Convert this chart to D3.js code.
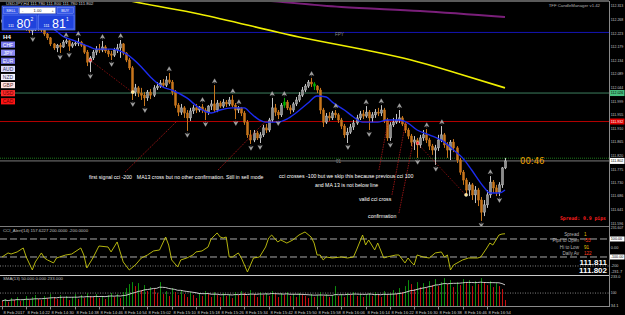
<!DOCTYPE html>
<html>
<head>
<meta charset="utf-8">
<script src="https://cdn.jsdelivr.net/npm/d3@7"></script>
<style>
body { margin: 0; background: #000; }
svg { display: block; font-family: "Liberation Sans", Arial, sans-serif; }
</style>
</head>
<body>
<div class="chart"></div>
<script>
// USDJPY candles, one per minute, 14:14 .. 17:00
var opens = [112.260,112.267,112.257,112.264,112.270,112.274,112.264,112.254,112.244,112.237,
  112.231,112.234,112.241,112.237,112.234,112.221,112.208,112.188,112.175,112.184,
  112.178,112.194,112.198,112.181,112.188,112.191,112.194,112.184,112.161,112.128,
  112.142,112.161,112.171,112.168,112.178,112.165,112.155,112.151,112.168,112.175,
  112.188,112.158,112.135,112.109,112.029,112.043,112.026,112.019,112.010,112.029,
  112.019,112.043,112.049,112.059,112.052,112.069,112.062,112.029,111.986,111.963,
  111.977,111.960,111.944,111.967,111.977,111.970,111.980,111.970,111.963,111.983,
  111.990,111.970,111.993,111.983,111.996,111.990,112.003,111.986,111.970,111.977,
  111.960,111.930,111.888,111.871,111.894,111.878,111.888,111.911,111.904,111.937,
  111.977,111.963,111.954,111.986,111.996,111.977,111.970,111.990,112.003,112.019,
  112.036,112.049,112.062,112.056,112.049,112.036,111.970,111.930,111.950,111.944,
  111.960,111.954,111.937,111.917,111.888,111.897,111.914,111.927,111.944,111.957,
  111.950,111.963,111.944,111.954,111.963,111.960,111.970,111.937,111.878,111.921,
  111.930,111.937,111.944,111.924,111.904,111.884,111.864,111.871,111.855,111.878,
  111.888,111.871,111.851,111.838,111.845,111.871,111.888,111.855,111.838,111.864,
  111.845,111.805,111.765,111.739,111.706,111.723,111.690,111.706,111.673,111.633,
  111.657,111.690,111.732,111.713,111.699,111.723,111.779];
var highs = [112.274,112.270,112.267,112.277,112.280,112.277,112.267,112.260,112.247,112.241,
  112.241,112.244,112.247,112.241,112.237,112.224,112.211,112.191,112.188,112.191,
  112.201,112.204,112.201,112.194,112.198,112.208,112.198,112.188,112.168,112.148,
  112.168,112.181,112.188,112.198,112.184,112.171,112.165,112.175,112.188,112.201,
  112.191,112.161,112.142,112.115,112.056,112.049,112.043,112.029,112.036,112.039,
  112.052,112.062,112.069,112.072,112.082,112.092,112.069,112.036,111.993,111.990,
  111.983,111.970,111.977,111.986,111.990,111.983,111.990,111.977,111.986,112.003,
  112.052,112.003,112.000,112.006,112.003,112.013,112.019,111.993,111.983,111.980,
  111.967,111.937,111.904,111.904,111.901,111.897,111.921,111.924,111.944,112.010,
  111.990,111.970,111.993,112.010,112.003,111.986,111.996,112.013,112.029,112.046,
  112.056,112.069,112.076,112.062,112.052,112.043,111.977,111.960,111.963,111.967,
  111.970,111.960,111.944,111.924,111.911,111.924,111.937,111.954,111.967,111.970,
  111.983,111.970,111.963,111.973,111.977,111.986,111.977,111.944,111.930,111.944,
  111.957,111.970,111.950,111.930,111.911,111.891,111.884,111.878,111.888,111.904,
  111.907,111.878,111.858,111.855,111.888,111.917,111.894,111.864,111.871,111.874,
  111.851,111.812,111.772,111.746,111.732,111.729,111.719,111.713,111.683,111.673,
  111.706,111.752,111.739,111.723,111.732,111.782,111.812];
var lows = [112.254,112.250,112.254,112.260,112.264,112.257,112.247,112.237,112.231,112.224,
  112.217,112.231,112.231,112.227,112.214,112.201,112.181,112.168,112.161,112.158,
  112.175,112.188,112.165,112.175,112.181,112.181,112.178,112.155,112.115,112.095,
  112.135,112.151,112.158,112.161,112.158,112.145,112.135,112.145,112.158,112.142,
  112.151,112.128,112.102,112.003,112.016,112.013,112.003,111.983,112.000,112.006,
  112.013,112.036,112.043,112.046,112.046,112.056,112.019,111.977,111.950,111.954,
  111.944,111.901,111.934,111.957,111.960,111.963,111.960,111.937,111.954,111.970,
  111.963,111.963,111.977,111.977,111.980,111.983,111.980,111.940,111.960,111.950,
  111.921,111.878,111.858,111.864,111.871,111.861,111.881,111.894,111.897,111.930,
  111.950,111.940,111.947,111.977,111.970,111.957,111.963,111.983,111.996,112.013,
  112.029,112.043,112.046,112.036,112.026,111.957,111.914,111.924,111.934,111.937,
  111.944,111.927,111.907,111.878,111.861,111.891,111.904,111.921,111.937,111.940,
  111.944,111.904,111.930,111.944,111.950,111.950,111.927,111.868,111.868,111.914,
  111.924,111.927,111.917,111.894,111.874,111.851,111.838,111.812,111.845,111.868,
  111.861,111.838,111.822,111.789,111.835,111.864,111.845,111.812,111.805,111.831,
  111.795,111.756,111.723,111.693,111.686,111.673,111.663,111.653,111.604,111.620,
  111.647,111.680,111.696,111.686,111.686,111.713,111.775];
var closes = [112.267,112.257,112.264,112.270,112.274,112.264,112.254,112.244,112.237,112.231,
  112.234,112.241,112.237,112.234,112.221,112.208,112.188,112.175,112.184,112.178,
  112.194,112.198,112.181,112.188,112.191,112.194,112.184,112.161,112.128,112.142,
  112.161,112.171,112.168,112.178,112.165,112.155,112.151,112.168,112.175,112.188,
  112.158,112.135,112.109,112.029,112.043,112.026,112.019,112.010,112.029,112.019,
  112.043,112.049,112.059,112.052,112.069,112.062,112.029,111.986,111.963,111.977,
  111.960,111.944,111.967,111.977,111.970,111.980,111.970,111.963,111.983,111.990,
  111.970,111.993,111.983,111.996,111.990,112.003,111.986,111.970,111.977,111.960,
  111.930,111.888,111.871,111.894,111.878,111.888,111.911,111.904,111.937,111.977,
  111.963,111.954,111.986,111.996,111.977,111.970,111.990,112.003,112.019,112.036,
  112.049,112.062,112.056,112.049,112.036,111.970,111.930,111.950,111.944,111.960,
  111.954,111.937,111.917,111.888,111.897,111.914,111.927,111.944,111.957,111.950,
  111.963,111.944,111.954,111.963,111.960,111.970,111.937,111.878,111.921,111.930,
  111.937,111.944,111.924,111.904,111.884,111.864,111.871,111.855,111.878,111.888,
  111.871,111.851,111.838,111.845,111.871,111.888,111.855,111.838,111.864,111.845,
  111.805,111.765,111.739,111.706,111.723,111.690,111.706,111.673,111.633,111.657,
  111.690,111.732,111.713,111.699,111.723,111.779,111.802];
var volumes = [40,56,32,64,48,72,40,56,80,48, 72,88,56,48,80,64,96,72,56,88,
  64,80,48,72,96,56,88,64,104,80, 72,96,64,80,56,88,104,72,96,64,
  112,144,176,192,160,184,128,168,120,152, 136,104,192,96,120,80,144,112,88,128,
  96,72,112,88,64,104,80,120,96,72, 112,88,72,104,80,96,64,112,88,120,
  104,80,128,96,72,112,88,104,80,120, 96,72,104,88,112,80,96,72,104,88,
  80,64,96,72,88,112,80,96,72,88, 160,80,96,72,104,88,112,80,96,72,
  88,104,80,112,96,72,120,88,104,128, 96,144,112,160,208,176,136,192,152,184,
  144,200,168,216,160,192,224,176,208,152, 192,168,216,184,208,160,200,176,224,192,
  168,200,152,184,160,136,48];
var greenCandles = [93, 103];
var fractalUp = [21,25,33,39,55,66,70,76,78,89,93,102,110,120,125,131,140,145,161];
var fractalDown = [10,19,22,29,36,43,47,61,67,77,82,85,91,114,121,128,137,143,158,164];

// moving averages: [candle, price]
var ma13 = [[0,112.267],[10,112.254],[17,112.237],[20,112.214],[24,112.198],[29,112.178],[31,112.171],
  [36,112.171],[41,112.155],[46,112.112],[49,112.079],[53,112.046],[56,112.036],[61,112.010],
  [65,111.977],[69,111.960],[72,111.970],[76,111.977],[80,111.977],[82,111.960],[85,111.937],
  [87,111.930],[91,111.930],[94,111.940],[97,111.960],[101,111.993],[104,112.016],[107,112.013],
  [109,111.996],[113,111.970],[116,111.947],[119,111.930],[124,111.930],[127,111.937],[131,111.937],
  [134,111.927],[137,111.904],[141,111.888],[146,111.864],[149,111.838],[152,111.812],[155,111.772],
  [159,111.716],[161,111.696],[164,111.696],[166,111.706]];
var maYellow = [[30,112.360],[41,112.333],[65,112.287],[98,112.211],[120,112.168],[135,112.135],[151,112.089],[166,112.043]];
var maPurple = [[70,112.346],[85,112.333],[112,112.310],[138,112.297],[166,112.277]];

// CCI(14): [candle, value]
var cci = [[0,-100],[2,-55],[3,-67],[5,-44],[7,0],[8,-100],[10,-244],[11,-155],[13,-55],[14,-111],
  [15,-133],[17,-166],[18,-111],[21,-78],[23,-67],[26,0],[27,-78],[28,-222],[30,-111],[32,22],
  [35,11],[36,-44],[38,67],[39,-44],[40,-155],[42,-244],[44,-189],[46,-111],[48,-78],[50,-33],
  [52,-22],[54,122],[55,33],[56,-133],[58,-211],[59,-133],[61,-111],[63,-78],[64,-44],[66,-33],
  [68,11],[69,100],[71,167],[72,122],[73,111],[74,122],[75,-100],[76,-100],[78,-55],[79,-111],
  [81,-266],[83,-111],[85,-100],[87,11],[88,111],[89,144],[91,67],[92,89],[94,55],[96,89],
  [98,144],[100,178],[102,122],[103,55],[104,-78],[105,-78],[106,-133],[107,-100],[109,-111],[112,-100],
  [114,-111],[116,-100],[117,-22],[119,144],[120,33],[121,89],[123,-22],[124,55],[126,-111],[127,-100],
  [130,-78],[131,-78],[133,-166],[134,-111],[135,-155],[136,-189],[137,-78],[139,-100],[141,-111],[143,-55],
  [145,-44],[146,-100],[147,-78],[148,-244],[149,-189],[152,-133],[154,-111],[157,-111],[158,-100],[160,0],
  [161,55],[162,33],[164,144],[165,155],[166,158]];
var cciLevels = [100, -100];
var cciDotted = [-200];

var timeLabels = ["8 Feb 2017","8 Feb 14:22","8 Feb 14:30","8 Feb 14:38","8 Feb 14:46","8 Feb 14:54",
  "8 Feb 15:02","8 Feb 15:10","8 Feb 15:18","8 Feb 15:26","8 Feb 15:34","8 Feb 15:42","8 Feb 15:50",
  "8 Feb 15:58","8 Feb 16:06","8 Feb 16:14","8 Feb 16:22","8 Feb 16:30","8 Feb 16:38","8 Feb 16:46","8 Feb 16:54"];
var priceTicks = [112.313,112.268,112.223,112.179,112.134,112.089,112.044,111.999,111.955,
  111.910,111.865,111.820,111.775,111.730,111.686,111.641,111.596];

var levelBlue = 112.226, levelGreen = 112.026, levelRed = 111.932;
var askPrice = 111.811, bidPrice = 111.802;

// signal points (red = signal, yellow = entry) and the notes on the chart
var signalIdx = [29, 43, 137, 153];
var signalPrice = [112.135, 112.029, 111.861, 111.690];
var noteText = ["first signal cci -200", "MA13 cross but no other confirmation. Still in sell mode",
  "cci crosses -100 but we skip this because previous cci 100", "and MA 13 is not below line",
  "valid cci cross", "confirmation"];
var noteIdx = [28.7, 44.5, 91.4, 103.3, 117.8, 120.8];
var notePrice = [111.742, 111.742, 111.746, 111.716, 111.670, 111.614];
var pointerFrom = [[40.6,111.765],[71.3,111.772],[124.4,111.772],[128.7,111.690],[131,111.630]];
var pointerTo = [[57.8,111.934],[87.1,111.934],[127.4,111.934],[133.3,111.934],[135.6,111.861]];

var currencies = ["CHF","JPY","EUR","AUD","NZD","GBP","USD","CAD"];
var currencyFill = ["#7474ea","#8a8af2","#6c6cdc","#dcdcfc","#f2f2ff","#ffe4e4","#ff2a2a","#ff1414"];
var currencyInk = ["#ffffff","#ffffff","#ffffff","#303060","#303060","#603030","#600000","#600000"];

var width = 625, height = 315;
var plotRight = 609;

var svg = d3.select(".chart").append("svg")
    .attr("width", width)
    .attr("height", height);
svg.append("rect").attr("width", width).attr("height", height).attr("fill", "#000");

var x = d3.scaleLinear().domain([0, 166]).range([2, 505]);
var y = d3.scaleLinear().domain([111.58, 112.333]).range([228.2, 0]);
var yCci = d3.scaleLinear().domain([-300, 222]).range([275, 228]);
var yVol = d3.scaleLinear().domain([0, 233]).range([306, 277]);

svg.append("clipPath").attr("id", "mainClip")
  .append("rect").attr("x", 0).attr("y", 2).attr("width", plotRight).attr("height", 225);

var main = svg.append("g").attr("clip-path", "url(#mainClip)");

// horizontal levels
function hline(g, yy, color, dash, w) {
  g.append("line").attr("x1", 0).attr("x2", plotRight).attr("y1", yy).attr("y2", yy)
    .attr("stroke", color).attr("stroke-width", w || 1).attr("stroke-dasharray", dash || null);
}
hline(main, y(levelBlue), "#1414b4");
hline(main, y(levelGreen), "#3d7f5f");
hline(main, y(levelRed), "#b40000");
hline(main, y(askPrice), "#1e7a1e", "1,1");
hline(main, y(bidPrice), "#7c7c7c");

var lineMa = d3.line()
    .x(function(d) { return x(d[0]); })
    .y(function(d) { return y(d[1]); })
    .curve(d3.curveMonotoneX);

main.append("path").attr("d", lineMa(maPurple)).attr("fill", "none").attr("stroke", "#7a1f7a").attr("stroke-width", 2);
main.append("path").attr("d", lineMa(maYellow)).attr("fill", "none").attr("stroke", "#f0f000").attr("stroke-width", 1.6);

// candles
var idx = d3.range(opens.length);
var candle = main.selectAll(".candle").data(idx).enter().append("g").attr("class", "candle");
function candleColor(i) {
  if (greenCandles.indexOf(i) >= 0) return "#00b000";
  return closes[i] >= opens[i] ? "#c4c4c4" : "#c8761c";
}
candle.append("line")
    .attr("x1", function(i) { return Math.round(x(i)) + 0.5; })
    .attr("x2", function(i) { return Math.round(x(i)) + 0.5; })
    .attr("y1", function(i) { return y(highs[i]); })
    .attr("y2", function(i) { return y(lows[i]); })
    .attr("stroke", candleColor)
    .attr("stroke-width", 1);
candle.append("rect")
    .attr("x", function(i) { return Math.round(x(i)) - 0.5; })
    .attr("width", 2)
    .attr("y", function(i) { return y(Math.max(opens[i], closes[i])); })
    .attr("height", function(i) { return Math.max(1, Math.abs(y(opens[i]) - y(closes[i]))); })
    .attr("fill", function(i) { return closes[i] >= opens[i] && greenCandles.indexOf(i) < 0 ? "#8c8c8c" : candleColor(i); })
    .attr("stroke", candleColor)
    .attr("stroke-width", 0.5);

// blue MA13
main.append("path").attr("d", lineMa(ma13)).attr("fill", "none").attr("stroke", "#1c2cf0").attr("stroke-width", 1.4);

// fractal arrows
main.selectAll(".fup").data(fractalUp).enter().append("path")
    .attr("transform", function(i) { return "translate(" + (x(i) + 0.5) + "," + (y(highs[i]) - 4) + ")"; })
    .attr("d", "M0,-2.4L2.2,1.6L0,0.5L-2.2,1.6Z M0,0.5L0,2.6")
    .attr("fill", "#a8a8a8").attr("stroke", "#a8a8a8").attr("stroke-width", 0.4);
main.selectAll(".fdn").data(fractalDown).enter().append("path")
    .attr("transform", function(i) { return "translate(" + (x(i) + 0.5) + "," + (y(lows[i]) + 4) + ")"; })
    .attr("d", "M0,2.4L2.2,-1.6L0,-0.5L-2.2,-1.6Z M0,-0.5L0,-2.6")
    .attr("fill", "#a8a8a8").attr("stroke", "#a8a8a8").attr("stroke-width", 0.4);

// signal connectors and dots
[[0, 1], [2, 3]].forEach(function(p) {
  main.append("line")
    .attr("x1", x(signalIdx[p[0]])).attr("y1", y(signalPrice[p[0]]))
    .attr("x2", x(signalIdx[p[1]])).attr("y2", y(signalPrice[p[1]]))
    .attr("stroke", "#a01010").attr("stroke-width", 0.8).attr("stroke-dasharray", "1.5,1.5");
});
main.selectAll(".sig").data(d3.range(signalIdx.length)).enter().append("circle")
    .attr("cx", function(k) { return x(signalIdx[k]) + 0.5; })
    .attr("cy", function(k) { return y(signalPrice[k]); })
    .attr("r", 1.6)
    .attr("fill", function(k) { return k % 2 == 0 ? "#ff3030" : "#ffe38a"; })
    .attr("stroke", "#fff").attr("stroke-width", 0.4);

// annotation pointers and notes
main.selectAll(".ptr").data(d3.range(pointerFrom.length)).enter().append("line")
    .attr("x1", function(k) { return x(pointerFrom[k][0]); })
    .attr("y1", function(k) { return y(pointerFrom[k][1]); })
    .attr("x2", function(k) { return x(pointerTo[k][0]); })
    .attr("y2", function(k) { return y(pointerTo[k][1]); })
    .attr("stroke", "#b01818").attr("stroke-width", 0.8).attr("stroke-dasharray", "1.5,1");
main.selectAll(".note").data(d3.range(noteText.length)).enter().append("text")
    .attr("x", function(k) { return x(noteIdx[k]); })
    .attr("y", function(k) { return y(notePrice[k]); })
    .attr("fill", "#ffffff").attr("font-size", 5.2)
    .text(function(k) { return noteText[k]; });

main.append("text").attr("x", 335).attr("y", 36).attr("fill", "#8c8c8c").attr("font-size", 4.5).text("FPY");
main.append("text").attr("x", 336).attr("y", 162.5).attr("fill", "#8c8c8c").attr("font-size", 4.5).text("01");
main.append("text").attr("x", 520).attr("y", 163.5).attr("fill", "#f0a000").attr("font-size", 8.5)
    .attr("font-family", "DejaVu Sans").text("00:46");
main.append("text").attr("x", 560).attr("y", 220).attr("fill", "#ff1e1e").attr("font-size", 5)
    .attr("font-weight", "bold").attr("font-family", "DejaVu Sans Mono")
    .attr("textLength", 46).attr("lengthAdjust", "spacingAndGlyphs").text("Spread: 0.9 pips");
main.append("text").attr("x", 600).attr("y", 7).attr("fill", "#b0b0b0").attr("font-size", 4.3)
    .attr("text-anchor", "end").text("TFF CandleManager v1.42");

// frame lines
svg.append("line").attr("x1", 0).attr("x2", plotRight).attr("y1", 1).attr("y2", 1).attr("stroke", "#5a5a5a").attr("stroke-width", 2);
svg.append("line").attr("x1", plotRight + 0.5).attr("x2", plotRight + 0.5).attr("y1", 1).attr("y2", 307).attr("stroke", "#8a8a8a");
svg.append("line").attr("x1", 0).attr("x2", plotRight).attr("y1", 226.5).attr("y2", 226.5).attr("stroke", "#7a7a7a");
svg.append("line").attr("x1", 0).attr("x2", plotRight).attr("y1", 275.5).attr("y2", 275.5).attr("stroke", "#c8c8c8").attr("stroke-width", 1.2);
svg.append("line").attr("x1", 0).attr("x2", plotRight).attr("y1", 306.5).attr("y2", 306.5).attr("stroke", "#8a8a8a");

// right price axis, labels squeezed into the 14px margin
var axisFont = 4;
function axisLabel(g, yy, txt, ink, fs) {
  var w = Math.min(12.5, txt.length * 1.9);
  g.append("text").attr("x", 610.8).attr("y", yy + 1.4)
    .attr("fill", ink || "#c8c8c8").attr("font-size", fs || axisFont)
    .attr("textLength", w).attr("lengthAdjust", "spacingAndGlyphs")
    .text(txt);
}
priceTicks.forEach(function(d) { axisLabel(svg, y(d), d.toFixed(3)); });
[[levelGreen, "#48c080", "#000"], [levelRed, "#e00000", "#fff"], [bidPrice, "#ffffff", "#000"]].forEach(function(b) {
  svg.append("rect").attr("x", 610).attr("y", y(b[0]) - 3).attr("width", 14.5).attr("height", 6).attr("fill", b[1]);
  axisLabel(svg, y(b[0]), b[0].toFixed(3), b[2]);
});

// CCI window
var cciG = svg.append("g");
cciG.append("text").attr("x", 3).attr("y", 232).attr("fill", "#c0c0c0").attr("font-size", 4.3)
    .text("CCI_Alert(14) 157.6227 200.0000 -200.0000");
cciLevels.forEach(function(v) { hline(cciG, yCci(v), "#d4d4d4", "7,3", 0.8); });
cciDotted.forEach(function(v) { hline(cciG, yCci(v), "#a8a8a8", "1,1.5", 0.8); });
var lineCci = d3.line().x(function(d) { return x(d[0]); }).y(function(d) { return yCci(d[1]); });
cciG.append("path").attr("d", lineCci(cci)).attr("fill", "none").attr("stroke", "#c8c810").attr("stroke-width", 0.9);
[["231.607", 222], ["0.00", 0], ["-200", -200], ["-231.7", -260]].forEach(function(t) {
  axisLabel(cciG, yCci(t[1]), t[0]);
});
[["100.00", 100], ["-100.00", -100]].forEach(function(t) {
  cciG.append("rect").attr("x", 610).attr("y", yCci(t[1]) - 2.5).attr("width", 14.5).attr("height", 5).attr("fill", "#fff");
  axisLabel(cciG, yCci(t[1]) - 0.2, t[0], "#000", 3.6);
});

// info box
var infoLabel = ["Spread", "Pips to Open", "Hi to Low", "Daily Av"];
var infoValue = ["1", "-55", "91", "122"];
var infoInk = ["#e8c000", "#ff3c1e", "#e8c000", "#ff3c1e"];
infoLabel.forEach(function(t, k) {
  cciG.append("text").attr("x", 579).attr("y", 236 + k * 6.3).attr("text-anchor", "end")
    .attr("fill", "#b4b4b4").attr("font-size", 4.6).text(t);
  cciG.append("text").attr("x", 584).attr("y", 236 + k * 6.3)
    .attr("fill", infoInk[k]).attr("font-size", 4.6).text(infoValue[k]);
});
cciG.append("text").attr("x", 607).attr("y", 265).attr("text-anchor", "end").attr("fill", "#fff")
    .attr("font-size", 8).attr("font-weight", "bold").text(askPrice.toFixed(3));
cciG.append("text").attr("x", 607).attr("y", 273).attr("text-anchor", "end").attr("fill", "#fff")
    .attr("font-size", 8).attr("font-weight", "bold").text(bidPrice.toFixed(3));

// volume window with SMA(13)
var volG = svg.append("g");
volG.append("text").attr("x", 3).attr("y", 280).attr("fill", "#c0c0c0").attr("font-size", 4.3)
    .text("SMA(13) 50.000 0.000 233.000");
hline(volG, yVol(104), "#a0a0a0", "1,1.5", 0.8);
volG.selectAll(".vol").data(idx).enter().append("line")
    .attr("x1", function(i) { return Math.round(x(i)) + 0.5; })
    .attr("x2", function(i) { return Math.round(x(i)) + 0.5; })
    .attr("y1", yVol(0))
    .attr("y2", function(i) { return yVol(volumes[i]); })
    .attr("stroke", function(i) { return i > 0 && volumes[i] > volumes[i - 1] ? "#0c8c0c" : "#c81010"; })
    .attr("stroke-width", 1);
var sma = idx.map(function(i) {
  return [i, d3.mean(volumes.slice(Math.max(0, i - 12), i + 1))];
});
volG.append("path").attr("d", d3.line().x(function(d) { return x(d[0]); }).y(function(d) { return yVol(d[1]); })(sma))
    .attr("fill", "none").attr("stroke", "#dcdcdc").attr("stroke-width", 0.9);
[["233.0", 233], ["100", 104], ["34.1", 4]].forEach(function(t) {
  axisLabel(volG, yVol(t[1]), t[0]);
});

// time axis
var tAxis = svg.append("g");
timeLabels.forEach(function(t, k) {
  var tx = Math.round(x(k * 8)) + 0.5;
  tAxis.append("line").attr("x1", tx).attr("x2", tx).attr("y1", 307).attr("y2", 309.5).attr("stroke", "#8a8a8a");
  tAxis.append("text").attr("x", tx + 1).attr("y", 313.5).attr("fill", "#c8c8c8").attr("font-size", 4.2).text(t);
});

// title and trade panel
svg.append("text").attr("x", 6).attr("y", 5).attr("fill", "#d0d0d0").attr("font-size", 4.3)
    .text("USDJPY,H4  111.780 111.800 111.780 111.802");
var tp = svg.append("g");
tp.append("rect").attr("x", 2).attr("y", 6).attr("width", 73).attr("height", 24).attr("fill", "#1a3ad0").attr("stroke", "#6a88f4").attr("stroke-width", 0.6);
tp.append("rect").attr("x", 3.5).attr("y", 7.5).attr("width", 15).attr("height", 6).attr("fill", "#3558e8").attr("stroke", "#a0b4ff").attr("stroke-width", 0.4);
tp.append("text").attr("x", 11).attr("y", 11.8).attr("text-anchor", "middle").attr("fill", "#fff").attr("font-size", 3.8).text("SELL");
tp.append("rect").attr("x", 19.5).attr("y", 7.5).attr("width", 36).attr("height", 6).attr("fill", "#ffffff").attr("stroke", "#9090a0").attr("stroke-width", 0.4);
tp.append("text").attr("x", 22).attr("y", 12).attr("fill", "#404040").attr("font-size", 4).text("-");
tp.append("text").attr("x", 37.5).attr("y", 12).attr("text-anchor", "middle").attr("fill", "#202020").attr("font-size", 4).text("1.00");
tp.append("text").attr("x", 51.5).attr("y", 12).attr("fill", "#404040").attr("font-size", 4).text("+");
tp.append("rect").attr("x", 57).attr("y", 7.5).attr("width", 16.5).attr("height", 6).attr("fill", "#3558e8").attr("stroke", "#a0b4ff").attr("stroke-width", 0.4);
tp.append("text").attr("x", 65.2).attr("y", 11.8).attr("text-anchor", "middle").attr("fill", "#fff").attr("font-size", 3.8).text("BUY");
[[3, 34, "80", "2"], [38.5, 35.5, "81", "1"]].forEach(function(b) {
  tp.append("rect").attr("x", b[0]).attr("y", 15).attr("width", b[1]).attr("height", 14).attr("fill", "#1f42dc").attr("stroke", "#7a96ff").attr("stroke-width", 0.5);
  tp.append("text").attr("x", b[0] + 5).attr("y", 26.5).attr("fill", "#fff").attr("font-size", 4).text("111");
  tp.append("text").attr("x", b[0] + 13.5).attr("y", 28).attr("fill", "#fff").attr("font-size", 12.5).text(b[2]);
  tp.append("text").attr("x", b[0] + 27.5).attr("y", 21).attr("fill", "#fff").attr("font-size", 5).text(b[3]);
});
svg.append("text").attr("x", 3).attr("y", 38.5).attr("fill", "#fff").attr("font-size", 6.2).attr("font-weight", "bold").text("H4");
currencies.forEach(function(c, k) {
  svg.append("rect").attr("x", 1).attr("y", 41.5 + k * 8.1).attr("width", 14).attr("height", 6.2).attr("fill", currencyFill[k]);
  svg.append("text").attr("x", 8).attr("y", 46.5 + k * 8.1).attr("text-anchor", "middle")
    .attr("fill", currencyInk[k]).attr("font-size", 5).text(c);
});
</script>
</body>
</html>
